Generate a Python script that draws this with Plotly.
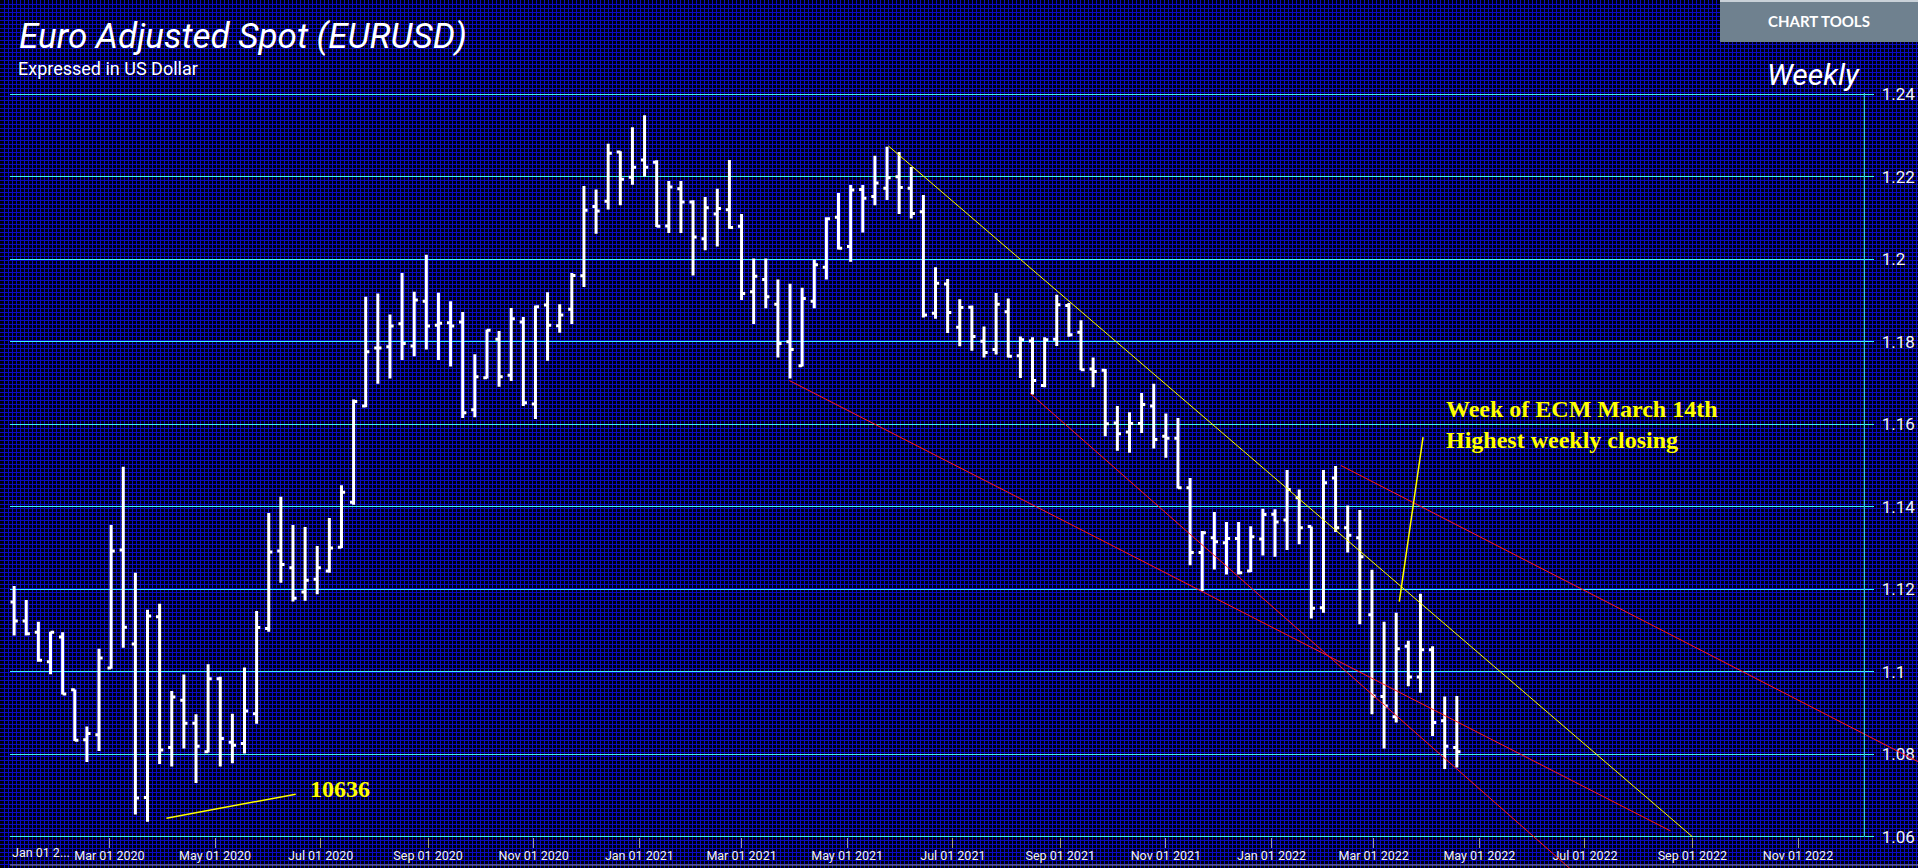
import plotly.graph_objects as go
import pandas as pd

# ---------------- data ----------------
first_week = "2020-01-06"
n_weeks = 120
week_dates = pd.date_range(first_week, periods=n_weeks, freq="7D")

open_px = [
    1.1169, 1.1123, 1.1096, 1.1024, 1.1084, 1.0956, 1.0835, 1.0847, 1.1009, 1.1295,
    1.1067, 1.0695, 1.1133, 1.0816, 1.0931, 1.0875, 1.0806, 1.0983, 1.0829, 1.0826,
    1.0898, 1.1105, 1.1293, 1.1252, 1.1193, 1.1224, 1.1244, 1.1302, 1.1411, 1.1644,
    1.1785, 1.1788, 1.1844, 1.1790, 1.1898, 1.1840, 1.1846, 1.1848, 1.1635, 1.1713,
    1.1806, 1.1719, 1.1848, 1.1649, 1.1889, 1.1839, 1.1879, 1.1960, 1.2128, 1.2141,
    1.2260, 1.2199, 1.2241, 1.2235, 1.2081, 1.2171, 1.2139, 1.2050, 1.2110, 1.2120,
    1.2080, 1.1921, 1.1951, 1.1891, 1.1800, 1.1742, 1.1898, 1.1981, 1.2102, 1.2031,
    1.2169, 1.2152, 1.2172, 1.2200, 1.2172, 1.2115, 1.1869, 1.1940, 1.1835, 1.1884,
    1.1801, 1.1781, 1.1873, 1.1766, 1.1802, 1.1694, 1.1806, 1.1888, 1.1823, 1.1734,
    1.1731, 1.1603, 1.1581, 1.1602, 1.1644, 1.1571, 1.1566, 1.1446, 1.1289, 1.1325,
    1.1313, 1.1323, 1.1244, 1.1322, 1.1382, 1.1368, 1.1422, 1.1352, 1.1155, 1.1470,
    1.1349, 1.1325, 1.1138, 1.0940, 1.0891, 1.1062, 1.0987, 1.1053, 1.0881, 1.0816,
]
high_px = [
    1.1208, 1.1174, 1.1121, 1.1097, 1.1096, 1.0957, 1.0867, 1.1056, 1.1356, 1.1497,
    1.1240, 1.1150, 1.1165, 1.0953, 1.0993, 1.0897, 1.1018, 1.0988, 1.0898, 1.1010,
    1.1147, 1.1385, 1.1424, 1.1356, 1.1351, 1.1305, 1.1373, 1.1452, 1.1660, 1.1909,
    1.1917, 1.1866, 1.1967, 1.1921, 1.2011, 1.1919, 1.1898, 1.1872, 1.1770, 1.1830,
    1.1826, 1.1882, 1.1860, 1.1888, 1.1920, 1.1891, 1.1967, 1.2178, 1.2169, 1.2280,
    1.2262, 1.2320, 1.2349, 1.2240, 1.2190, 1.2190, 1.2143, 1.2151, 1.2171, 1.2241,
    1.2110, 1.2002, 1.2002, 1.1951, 1.1941, 1.1931, 1.1999, 1.2102, 1.2161, 1.2180,
    1.2180, 1.2251, 1.2273, 1.2260, 1.2224, 1.2156, 1.1981, 1.1952, 1.1903, 1.1888,
    1.1837, 1.1918, 1.1905, 1.1813, 1.1811, 1.1811, 1.1914, 1.1894, 1.1852, 1.1762,
    1.1734, 1.1644, 1.1629, 1.1676, 1.1698, 1.1626, 1.1615, 1.1470, 1.1341, 1.1387,
    1.1363, 1.1363, 1.1353, 1.1395, 1.1394, 1.1489, 1.1442, 1.1352, 1.1489, 1.1499,
    1.1403, 1.1392, 1.1247, 1.1121, 1.1143, 1.1075, 1.1189, 1.1062, 1.0940, 1.0941,
]
low_px = [
    1.1088, 1.1088, 1.1024, 1.0994, 1.0945, 1.0832, 1.0781, 1.0808, 1.1007, 1.1058,
    1.0654, 1.0636, 1.0776, 1.0770, 1.0814, 1.0730, 1.0804, 1.0770, 1.0778, 1.0802,
    1.0874, 1.1097, 1.1216, 1.1170, 1.1172, 1.1188, 1.1240, 1.1300, 1.1405, 1.1641,
    1.1698, 1.1711, 1.1756, 1.1765, 1.1781, 1.1756, 1.1740, 1.1615, 1.1617, 1.1711,
    1.1691, 1.1705, 1.1644, 1.1613, 1.1754, 1.1822, 1.1843, 1.1933, 1.2062, 1.2121,
    1.2131, 1.2181, 1.2201, 1.2078, 1.2064, 1.2064, 1.1961, 1.2022, 1.2031, 1.2074,
    1.1901, 1.1843, 1.1881, 1.1762, 1.1711, 1.1740, 1.1881, 1.1951, 1.2024, 1.1994,
    1.2065, 1.2131, 1.2144, 1.2110, 1.2099, 1.1859, 1.1856, 1.1821, 1.1789, 1.1778,
    1.1762, 1.1769, 1.1762, 1.1712, 1.1672, 1.1690, 1.1790, 1.1812, 1.1731, 1.1690,
    1.1571, 1.1536, 1.1531, 1.1579, 1.1541, 1.1519, 1.1444, 1.1258, 1.1196, 1.1248,
    1.1236, 1.1236, 1.1242, 1.1282, 1.1279, 1.1295, 1.1309, 1.1129, 1.1143, 1.1339,
    1.1289, 1.1115, 1.0897, 1.0814, 1.0877, 1.0965, 1.0949, 1.0844, 1.0764, 1.0768,
]
close_px = [
    1.1123, 1.1092, 1.1028, 1.1096, 1.0946, 1.0834, 1.0850, 1.1033, 1.1293, 1.1108,
    1.0694, 1.1135, 1.0810, 1.0939, 1.0875, 1.0819, 1.0983, 1.0838, 1.0822, 1.0905,
    1.1107, 1.1290, 1.1260, 1.1178, 1.1222, 1.1252, 1.1300, 1.1435, 1.1655, 1.1776,
    1.1785, 1.1838, 1.1796, 1.1901, 1.1838, 1.1845, 1.1838, 1.1628, 1.1715, 1.1828,
    1.1715, 1.1856, 1.1652, 1.1885, 1.1840, 1.1865, 1.1961, 1.2119, 1.2117, 1.2257,
    1.2194, 1.2223, 1.2223, 1.2080, 1.2175, 1.2139, 1.2054, 1.2125, 1.2123, 1.2077,
    1.1917, 1.1959, 1.1909, 1.1796, 1.1781, 1.1905, 1.1987, 1.2098, 1.2027, 1.2168,
    1.2148, 1.2185, 1.2198, 1.2174, 1.2111, 1.1865, 1.1942, 1.1871, 1.1883, 1.1813,
    1.1774, 1.1891, 1.1765, 1.1805, 1.1706, 1.1805, 1.1890, 1.1817, 1.1732, 1.1728,
    1.1601, 1.1577, 1.1602, 1.1648, 1.1563, 1.1566, 1.1446, 1.1289, 1.1337, 1.1315,
    1.1323, 1.1240, 1.1327, 1.1381, 1.1363, 1.1442, 1.1349, 1.1154, 1.1458, 1.1349,
    1.1331, 1.1279, 1.0941, 1.0917, 1.1056, 1.0987, 1.1053, 1.0877, 1.0819, 1.0806,
]

y_tick_values = [1.06, 1.08, 1.10, 1.12, 1.14, 1.16, 1.18, 1.20, 1.22, 1.24]
y_tick_labels = ["1.06", "1.08", "1.1", "1.12", "1.14", "1.16", "1.18", "1.2", "1.22", "1.24"]
x_tick_dates = [
    "2020-03-01", "2020-05-01", "2020-07-01", "2020-09-01", "2020-11-01",
    "2021-01-01", "2021-03-01", "2021-05-01", "2021-07-01", "2021-09-01", "2021-11-01",
    "2022-01-01", "2022-03-01", "2022-05-01", "2022-07-01", "2022-09-01", "2022-11-01",
]
first_tick_label = "Jan 01 2..."

# drawn trend lines (start date, start price, end date, end price)
trend_yellow = ("2021-05-24 17:00", 1.2275, "2022-09-01 00:00", 1.0600)
trend_red_1 = ("2021-03-28 14:00", 1.1706, "2022-08-19 10:00", 1.0614)
trend_red_2 = ("2021-08-14 14:00", 1.1675, "2022-07-12 20:00", 1.0447)
trend_red_3 = ("2022-02-10 02:00", 1.1500, "2023-01-09 07:00", 1.0782)
pointer_low = ("2020-04-02 22:00", 1.0645, "2020-06-16 14:00", 1.0703)
pointer_ecm = ("2022-03-15 19:00", 1.1170, "2022-03-29 12:00", 1.1569)
low_label = ("2020-06-23 16:00", 1.0716, "10636")
ecm_label = ("2022-04-10 14:00", 1.1600, "Week of ECM March 14th<br>Highest weekly closing")

# ---------------- styling ----------------
W, H = 1918, 868
BG = "#00000e"
FINE_GRID = "#0a0ac4"
CYAN = "#3cf2f8"
YELLOW = "#ffff00"
RED = "#ff1a1a"
TICK_FONT = dict(family="Roboto", size=12.5, color="#f2f2f2")

X_LO = pd.Timestamp("2020-01-03 14:30")
X_HI = pd.Timestamp("2022-12-09 06:43")
Y_LO, Y_HI = 1.05241, 1.24032
PLOT_L, PLOT_R, PLOT_T = 10, 1864.3, 93
XAXIS_Y = 836.7


def xdom(d):
    return (pd.Timestamp(d) - X_LO) / (X_HI - X_LO)


fig = go.Figure()

# carrier for the fine background grid subplot
fig.add_trace(go.Scatter(x=[None], y=[None], xaxis="x", yaxis="y",
                         showlegend=False, hoverinfo="skip"))

fig.add_trace(go.Ohlc(
    x=week_dates, open=open_px, high=high_px, low=low_px, close=close_px,
    xaxis="x2", yaxis="y2",
    increasing=dict(line=dict(color="#ffffff", width=3)),
    decreasing=dict(line=dict(color="#ffffff", width=3)),
    tickwidth=0.3, showlegend=False, hoverinfo="skip",
))

shapes = []


def seg(t, color, width=1, xref="x2"):
    if xref == "x2 domain":
        x0, x1 = xdom(t[0]), xdom(t[2])
    else:
        x0, x1 = t[0], t[2]
    shapes.append(dict(type="line", xref=xref, yref="y2", x0=x0, y0=t[1], x1=x1, y1=t[3],
                       line=dict(color=color, width=width)))


seg(trend_yellow, YELLOW, 1)
seg(trend_red_1, RED, 1)
seg(trend_red_2, RED, 1)
seg(trend_red_3, RED, 1, xref="x2 domain")
seg(pointer_low, YELLOW, 1.5)
seg(pointer_ecm, YELLOW, 1.5)

# right axis line (from 1.06 to top)
shapes.append(dict(type="line", xref="x2 domain", yref="y2", x0=1, x1=1,
                   y0=y_tick_values[0], y1=Y_HI, line=dict(color=CYAN, width=1)))
# chart tools button
shapes.append(dict(type="rect", xref="paper", yref="paper", x0=1720 / W, x1=1,
                   y0=1 - 42 / H, y1=1, fillcolor="#6f818f", line=dict(width=0), layer="above"))
shapes.append(dict(type="line", xref="paper", yref="paper", x0=1720 / W, x1=1,
                   y0=1 - 1 / H, y1=1 - 1 / H, line=dict(color="#c9d1d8", width=2)))
# navigator baseline at the bottom
shapes.append(dict(type="line", xref="paper", yref="paper", x0=PLOT_L / W, x1=1,
                   y0=3 / H, y1=3 / H, line=dict(color="#8c8c8c", width=1)))

annotations = [
    dict(text="<i>Euro Adjusted Spot (EURUSD)</i>", xref="paper", yref="paper",
         x=17 / W, y=1 - 36 / H, xanchor="left", yanchor="middle", showarrow=False,
         font=dict(family="Roboto", size=35, color="#ffffff")),
    dict(text="Expressed in US Dollar", xref="paper", yref="paper",
         x=16 / W, y=1 - 69 / H, xanchor="left", yanchor="middle", showarrow=False,
         font=dict(family="Roboto", size=18, color="#ffffff")),
    dict(text="<i>Weekly</i>", xref="paper", yref="paper",
         x=1862 / W, y=1 - 75 / H, xanchor="right", yanchor="middle", showarrow=False,
         font=dict(family="Roboto", size=30, color="#ffffff")),
    dict(text="<b>CHART TOOLS</b>", xref="paper", yref="paper",
         x=1819 / W, y=1 - 21 / H, xanchor="center", yanchor="middle", showarrow=False,
         font=dict(family="Lato", size=15, color="#ffffff")),
    dict(text=first_tick_label, xref="paper", yref="paper",
         x=10 / W, y=1 - 852 / H, xanchor="left", yanchor="middle", showarrow=False,
         font=TICK_FONT),
    dict(text="<b>%s</b>" % low_label[2], xref="x2", yref="y2",
         x=low_label[0], y=low_label[1], xanchor="left", yanchor="middle", showarrow=False,
         font=dict(family="Liberation Serif", size=24, color=YELLOW)),
    dict(text="<b>%s</b>" % ecm_label[2], xref="x2", yref="y2", align="left",
         x=ecm_label[0], y=ecm_label[1], xanchor="left", yanchor="middle", showarrow=False,
         font=dict(family="Liberation Serif", size=24, color=YELLOW)),
]

bg_axis = dict(domain=[0, 1], tickmode="linear", tick0=0, dtick=4, showgrid=True,
               gridcolor=FINE_GRID, gridwidth=1, showticklabels=False, ticks="",
               zeroline=False, showline=False, fixedrange=True, automargin=False)

fig.update_layout(
    template="none",
    width=W, height=H, autosize=False, margin=dict(l=0, r=0, t=0, b=0, pad=0, autoexpand=False),
    paper_bgcolor=BG, plot_bgcolor="rgba(0,0,0,0)",
    showlegend=False,
    xaxis=dict(bg_axis, range=[0, W], anchor="y"),
    yaxis=dict(bg_axis, range=[0, H], anchor="x"),
    xaxis2=dict(
        type="date", domain=[PLOT_L / W, PLOT_R / W], range=[X_LO, X_HI],
        anchor="free", position=(H - XAXIS_Y) / H, automargin=False,
        showgrid=False, zeroline=False, showline=False,
        tickmode="array", tickvals=x_tick_dates, tickformat="%b %d %Y",
        ticks="outside", ticklen=10, tickwidth=1, tickcolor="#9a9a9a", ticklabelstandoff=-3,
        tickfont=TICK_FONT, rangeslider=dict(visible=False), fixedrange=True,
    ),
    yaxis2=dict(
        domain=[0, (H - PLOT_T) / H], range=[Y_LO, Y_HI], anchor="x2", side="right",
        automargin=False,
        tickmode="array", tickvals=y_tick_values, ticktext=y_tick_labels,
        showgrid=True, gridcolor=CYAN, gridwidth=1, zeroline=False, showline=False,
        ticks="outside", ticklen=9, tickwidth=1, tickcolor=CYAN, ticklabelstandoff=4,
        tickfont=dict(family="Roboto", size=17, color="#f2f2f2"), fixedrange=True,
    ),
    shapes=shapes,
    annotations=annotations,
)

fig.write_html("out.html", config={"displayModeBar": False},
               post_script="document.body.style.margin='0px';document.body.style.overflow='hidden';")
